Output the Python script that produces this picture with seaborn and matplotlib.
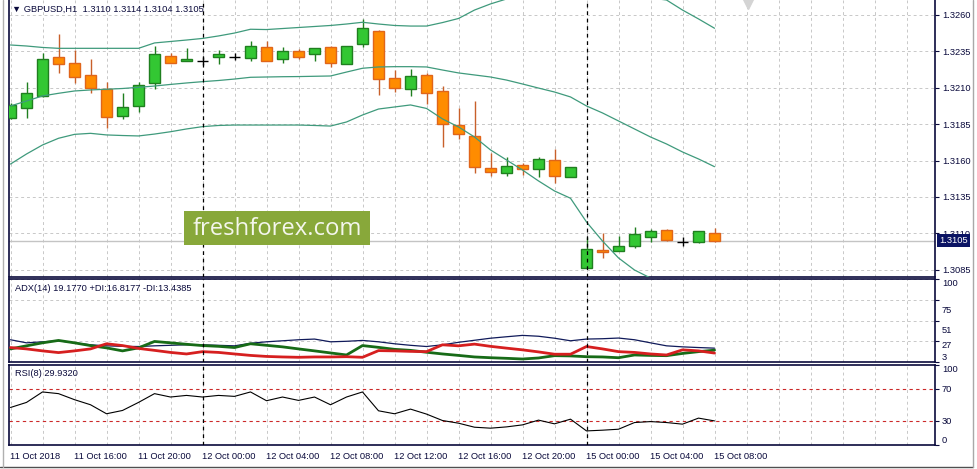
import numpy as np
import matplotlib
matplotlib.use("Agg")
import matplotlib.pyplot as plt
import matplotlib.transforms as mtransforms
from matplotlib.lines import Line2D
from matplotlib.patches import Rectangle
import seaborn as sns

# ---------------- data (GBPUSD H1, 11 Oct 12:00 -> 15 Oct 08:00) ----------------
opens = [1.31894, 1.31963, 1.32044, 1.32311, 1.32268, 1.32188, 1.32092, 1.31908, 1.31977, 1.32131,
         1.32318, 1.32286, 1.32286, 1.32309, 1.32314, 1.32307, 1.32378, 1.32296, 1.32351, 1.32330,
         1.32378, 1.32261, 1.32399, 1.32492, 1.32169, 1.32090, 1.32188, 1.32078, 1.31844, 1.31769,
         1.31549, 1.31512, 1.31567, 1.31540, 1.31604, 1.31489, 1.30860, 1.30986, 1.30981, 1.31015,
         1.31077, 1.31123, 1.31043, 1.31038, 1.31100]
highs = [1.31995, 1.32142, 1.32337, 1.32469, 1.32360, 1.32296, 1.32138, 1.32066, 1.32138, 1.32387,
         1.32341, 1.32371, 1.32314, 1.32360, 1.32337, 1.32421, 1.32421, 1.32378, 1.32364, 1.32375,
         1.32387, 1.32387, 1.32570, 1.32497, 1.32222, 1.32227, 1.32199, 1.32112, 1.31959, 1.32011,
         1.31654, 1.31622, 1.31581, 1.31622, 1.31677, 1.31558, 1.31073, 1.31100, 1.31084, 1.31146,
         1.31128, 1.31130, 1.31073, 1.31116, 1.31140]
lows = [1.31885, 1.31894, 1.32035, 1.32204, 1.32135, 1.32066, 1.31822, 1.31885, 1.31936, 1.32092,
        1.32268, 1.32286, 1.32257, 1.32261, 1.32291, 1.32286, 1.32286, 1.32272, 1.32296, 1.32286,
        1.32245, 1.32261, 1.32382, 1.32050, 1.32073, 1.32046, 1.31987, 1.31691, 1.31746, 1.31512,
        1.31496, 1.31496, 1.31501, 1.31489, 1.31448, 1.31489, 1.30860, 1.30929, 1.30981, 1.31001,
        1.31038, 1.31047, 1.31013, 1.31032, 1.31040]
closes = [1.31982, 1.32062, 1.32296, 1.32261, 1.32176, 1.32096, 1.31897, 1.31966, 1.32117, 1.32330,
          1.32272, 1.32296, 1.32286, 1.32330, 1.32314, 1.32387, 1.32286, 1.32355, 1.32314, 1.32371,
          1.32268, 1.32387, 1.32509, 1.32158, 1.32096, 1.32181, 1.32066, 1.31849, 1.31780, 1.31558,
          1.31519, 1.31561, 1.31542, 1.31609, 1.31496, 1.31558, 1.30990, 1.30970, 1.31013, 1.31093,
          1.31116, 1.31054, 1.31043, 1.31116, 1.31050]

bb_upper = [1.32394, 1.32387, 1.32377, 1.32371, 1.32371, 1.32371, 1.32371, 1.32371, 1.32371, 1.32408,
            1.32418, 1.32428, 1.32439, 1.32456, 1.32476, 1.32502, 1.32500, 1.32507, 1.32514, 1.32521,
            1.32528, 1.32538, 1.32550, 1.32538, 1.32528, 1.32524, 1.32524, 1.32548, 1.32576, 1.32634,
            1.32676, 1.32710, 1.32744, 1.32772, 1.32792, 1.32799, 1.32799, 1.32785, 1.32772, 1.32744,
            1.32717, 1.32703, 1.32634, 1.32573, 1.32509]
bb_middle = [1.31975, 1.32009, 1.32044, 1.32062, 1.32078, 1.32085, 1.32090, 1.32095, 1.32103, 1.32112,
             1.32123, 1.32133, 1.32142, 1.32150, 1.32160, 1.32172, 1.32174, 1.32176, 1.32177, 1.32179,
             1.32181, 1.32208, 1.32234, 1.32243, 1.32245, 1.32245, 1.32243, 1.32222, 1.32202, 1.32188,
             1.32174, 1.32153, 1.32126, 1.32098, 1.32071, 1.32037, 1.31975, 1.31927, 1.31872, 1.31817,
             1.31762, 1.31714, 1.31659, 1.31611, 1.31558]
bb_lower = [1.31576, 1.31645, 1.31707, 1.31753, 1.31780, 1.31787, 1.31776, 1.31772, 1.31769, 1.31782,
            1.31798, 1.31817, 1.31833, 1.31841, 1.31844, 1.31844, 1.31844, 1.31844, 1.31844, 1.31841,
            1.31837, 1.31865, 1.31913, 1.31954, 1.31968, 1.31982, 1.31958, 1.31886, 1.31831, 1.31762,
            1.31673, 1.31604, 1.31535, 1.31460, 1.31391, 1.31341, 1.31178, 1.31047, 1.30931, 1.30848,
            1.30793, 1.30738, 1.30690, 1.30642, 1.30601]

adx = [29.0, 25.4, 26.6, 27.8, 25.4, 23.1, 21.9, 21.3, 21.1, 21.9,
       22.5, 23.1, 23.1, 22.5, 21.9, 24.9, 26.6, 27.8, 29.0, 29.8,
       26.6, 27.2, 28.2, 26.6, 24.3, 22.5, 21.1, 23.1, 26.0, 28.4,
       30.8, 32.5, 34.1, 33.1, 30.8, 27.8, 29.8, 30.2, 31.0, 29.0,
       25.4, 21.9, 20.7, 19.9, 19.18]
plus_di = [18.3, 21.9, 25.4, 28.2, 25.4, 22.2, 19.5, 16.0, 19.5, 27.0,
           25.4, 23.7, 22.2, 21.3, 19.9, 24.3, 22.5, 20.7, 18.3, 16.0,
           13.6, 11.2, 22.2, 20.1, 17.8, 16.6, 14.4, 12.4, 10.7, 8.9,
           8.0, 7.3, 6.5, 7.7, 10.4, 10.1, 9.2, 8.9, 8.0, 11.2,
           10.7, 10.4, 13.0, 15.1, 16.82]
minus_di = [19.9, 18.3, 16.0, 14.0, 16.0, 18.3, 24.3, 22.2, 18.9, 16.6,
            14.2, 12.4, 15.1, 14.2, 12.4, 10.7, 9.5, 8.9, 8.5, 8.9,
            8.9, 9.2, 8.5, 16.3, 16.0, 15.4, 15.1, 23.1, 21.9, 23.9,
            21.3, 19.2, 17.2, 14.8, 12.1, 12.1, 21.1, 18.3, 15.1, 14.2,
            12.4, 11.2, 17.2, 16.0, 13.44]
rsi = [46.6, 52.9, 65.9, 63.8, 56.3, 50.0, 38.8, 42.9, 52.9, 63.8,
       59.6, 61.6, 59.6, 61.6, 60.4, 65.9, 55.0, 59.6, 55.4, 59.6,
       50.0, 59.6, 65.9, 42.5, 38.8, 44.6, 38.4, 30.4, 27.1, 22.1,
       20.9, 22.5, 25.0, 30.9, 26.3, 32.1, 17.5, 18.4, 19.6, 27.9,
       29.1, 27.9, 25.9, 33.4, 29.93]

time_labels = ["11 Oct 2018", "11 Oct 16:00", "11 Oct 20:00", "12 Oct 00:00", "12 Oct 04:00",
               "12 Oct 08:00", "12 Oct 12:00", "12 Oct 16:00", "12 Oct 20:00", "15 Oct 00:00",
               "15 Oct 04:00", "15 Oct 08:00"]
day_starts = [12, 36]          # bar index of 12 Oct 00:00 and 15 Oct 00:00
price_ticks = [1.3085, 1.3110, 1.3135, 1.3160, 1.3185, 1.3210, 1.3235, 1.3260]
adx_ticks = [100, 75, 51, 27, 3]
rsi_ticks = [100, 70, 30, 0]
rsi_levels = [70, 30]

header = "\u25BC GBPUSD,H1  1.3110 1.3114 1.3104 1.3105"
adx_title = "ADX(14) 19.1770 +DI:16.8177 -DI:13.4385"
rsi_title = "RSI(8) 29.9320"
watermark = "freshforex.com"

# ---------------- styling ----------------
sns.set_style("white")
plt.rcParams['font.family'] = ['Liberation Sans', 'DejaVu Sans']
FS = 6.7
NAVY = '#0a0a3c'
GRID = '#c8c8c8'
G_FILL, G_EDGE = '#33c733', '#1f7f1f'
O_FILL, O_EDGE, O_WICK = '#ff8c00', '#e0651a', '#c8602a'
BAND = '#3f9a7c'

W, H = 977, 469
fig = plt.figure(figsize=(W / 100, H / 100), dpi=100)
fig.patch.set_facecolor('white')


def rect(x0, y0, x1, y1):
    return [x0 / W, 1 - y1 / H, (x1 - x0) / W, (y1 - y0) / H]


ax = fig.add_axes(rect(9, 0, 935, 277))
ax_adx = fig.add_axes(rect(9, 279, 935, 362), sharex=ax)
ax_rsi = fig.add_axes(rect(9, 364.5, 935, 445), sharex=ax)

idx = np.arange(len(opens))
o = np.array(opens); c = np.array(closes)
hi = np.array(highs); lo = np.array(lows)
up = c > o
dn = c < o
dj = c == o
bw = 0.66

# candles
ax.vlines(idx[up], lo[up], hi[up], color=G_EDGE, lw=1, zorder=3)
ax.vlines(idx[dn], lo[dn], hi[dn], color=O_WICK, lw=1, zorder=3)
ax.vlines(idx[dj], lo[dj], hi[dj], color='black', lw=1, zorder=3)
ax.bar(idx[up], c[up] - o[up], bottom=o[up], width=bw, color=G_FILL,
       edgecolor=G_EDGE, lw=1, zorder=4)
ax.bar(idx[dn], o[dn] - c[dn], bottom=c[dn], width=bw, color=O_FILL,
       edgecolor=O_EDGE, lw=1, zorder=4)
ax.hlines(o[dj], idx[dj] - bw / 2, idx[dj] + bw / 2, color='black', lw=1, zorder=4)

# Bollinger bands
for band in (bb_upper, bb_middle, bb_lower):
    sns.lineplot(x=idx, y=band, ax=ax, color=BAND, lw=0.9, legend=False, zorder=5)

# bid line
ax.axhline(closes[-1], color='#c4c4c4', lw=1, zorder=1)

# ADX panel
sns.lineplot(x=idx, y=adx, ax=ax_adx, color='#101a5a', lw=0.9, legend=False, zorder=3)
sns.lineplot(x=idx, y=plus_di, ax=ax_adx, color='#176b17', lw=2.0, legend=False, zorder=4)
sns.lineplot(x=idx, y=minus_di, ax=ax_adx, color='#d61f1f', lw=2.0, legend=False, zorder=4)

# RSI panel
sns.lineplot(x=idx, y=rsi, ax=ax_rsi, color='black', lw=0.8, legend=False, zorder=3)
for lv in rsi_levels:
    ax_rsi.axhline(lv, color='#cc2a2a', lw=0.8, ls=(0, (3, 3)), zorder=2)

# axes limits / ticks
x_left = (9 - 10.5) / 16
x_right = (935 - 10.5) / 16
ax.set_xlim(x_left, x_right)
ax.set_ylim(1.30800, 1.32703)
ax_adx.set_ylim(3, 100)
ax_rsi.set_ylim(0, 100)

ax_rsi.set_xticks(np.arange(0, len(opens), 4))
ax_rsi.set_xticks(np.arange(0, 58, 2), minor=True)
ax_rsi.set_xticklabels(time_labels)
for lbl in ax_rsi.get_xticklabels():
    lbl.set_horizontalalignment('left')

for a in (ax, ax_adx, ax_rsi):
    a.set_xlabel(''); a.set_ylabel('')
    a.set_facecolor('white')
    a.yaxis.tick_right()
    a.grid(which='both', axis='x', color=GRID, lw=0.7, ls=(0, (3, 3)), zorder=0)
    a.tick_params(axis='y', direction='out', length=3, width=0.8, pad=2,
                  labelsize=FS, colors=NAVY, labelcolor=NAVY)
    a.tick_params(axis='x', which='minor', length=0)
    for s in a.spines.values():
        s.set_color(NAVY)
        s.set_linewidth(1.2)
    for d in day_starts:
        a.axvline(d, color='black', lw=0.9, ls=(0, (3, 3)), zorder=6)

ax.spines['top'].set_visible(False)
for a in (ax, ax_adx):
    a.tick_params(axis='x', which='both', length=0, labelbottom=False)
ax_rsi.tick_params(axis='x', which='major', direction='out', length=3, width=0.8,
                   pad=2, labelsize=FS, colors=NAVY, labelcolor=NAVY)

ax.set_yticks(price_ticks)
ax.set_yticklabels([f"{p:.4f}" for p in price_ticks])
ax.grid(axis='y', color=GRID, lw=0.7, ls=(0, (3, 3)), zorder=0)

ax_adx.set_yticks(adx_ticks)
ax_adx.set_yticklabels([str(t) for t in adx_ticks])
ax_adx.grid(axis='y', color=GRID, lw=0.7, ls=(0, (3, 3)), zorder=0)
adx_lbls = ax_adx.get_yticklabels()
for lbl in adx_lbls[:-1]:
    lbl.set_verticalalignment('top')
for lbl, dy in zip(adx_lbls[1:3], (4, 4)):
    lbl.set_transform(lbl.get_transform()
                      + mtransforms.ScaledTranslation(0, -dy / 72, fig.dpi_scale_trans))
adx_lbls[-1].set_verticalalignment('bottom')

ax_rsi.set_yticks(rsi_ticks)
ax_rsi.set_yticklabels([str(t) for t in rsi_ticks])
ax_rsi.get_yticklabels()[0].set_verticalalignment('top')
ax_rsi.get_yticklabels()[-1].set_verticalalignment('bottom')

# current price box (covers the lower half of the 1.3110 label, as in the original)
trans = mtransforms.blended_transform_factory(ax.transAxes, ax.transData)
ax.text(1.0045, closes[-1], f"{closes[-1]:.4f}", transform=trans, ha='left', va='center',
        fontsize=FS, color='white', zorder=10,
        bbox=dict(boxstyle='square,pad=0.22', fc='#0b1464', ec='none'))

# chart-shift marker
ax.plot([0.798], [0.99], marker='v', ms=8, color='#d4d4d4', transform=ax.transAxes,
        clip_on=False, zorder=2)

# texts
fig.text(12 / W, 1 - 9 / H, header, fontsize=FS, color=NAVY, ha='left', va='center')
fig.text(15 / W, 1 - 288 / H, adx_title, fontsize=FS, color=NAVY, ha='left', va='center')
fig.text(15 / W, 1 - 373 / H, rsi_title, fontsize=FS, color=NAVY, ha='left', va='center')

# watermark
fig.add_artist(Rectangle((184 / W, 1 - 245 / H), 186 / W, 34 / H, transform=fig.transFigure,
                         facecolor='#88a83a', edgecolor='none', zorder=19))
fig.text(277 / W, 1 - 228.5 / H, watermark, fontsize=17.2, family=['Open Sans', 'DejaVu Sans'],
         color='#f4f6ec', ha='center', va='center', zorder=20)

# window frame
fig.add_artist(Line2D([0, 973 / W], [1 - 466.5 / H] * 2, color='#505050', lw=1))
fig.add_artist(Line2D([973 / W] * 2, [1 - 466.5 / H, 1], color='#a8a8a8', lw=1))
fig.add_artist(Line2D([2.5 / W] * 2, [1 - 466.5 / H, 1], color='#b0b0b0', lw=1))

fig.savefig('out.png', dpi=100, facecolor='white')
